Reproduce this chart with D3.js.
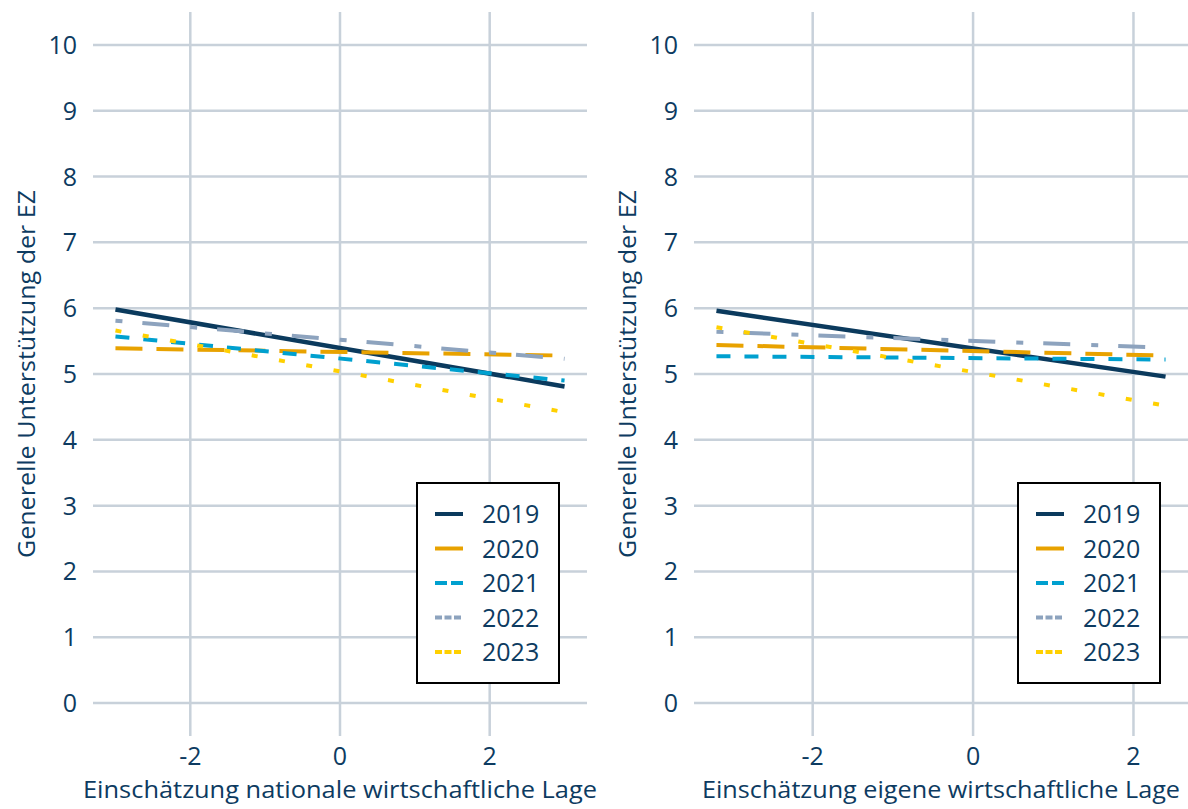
<!DOCTYPE html>
<html>
<head>
<meta charset="utf-8">
<script src="https://cdn.jsdelivr.net/npm/d3@7"></script>
<style>
  body { margin: 0; background: #fff; }
  text { font-family: "Open Sans", sans-serif; fill: #0d3b61; }
</style>
</head>
<body>
<script>
// series and values
var years = ["2019", "2020", "2021", "2022", "2023"];
var yearColors = ["#0b3a5d", "#e8a200", "#00a0cf", "#8da3be", "#ffd000"];

var nationalX = [-3, 3];
var nationalStart = [5.98, 5.39, 5.57, 5.81, 5.66];
var nationalEnd = [4.81, 5.28, 4.90, 5.23, 4.42];

var eigeneX = [-3.2, 2.4];
var eigeneStart = [5.96, 5.44, 5.27, 5.64, 5.71];
var eigeneEnd = [4.96, 5.28, 5.22, 5.40, 4.52];

var yTicks = [0, 1, 2, 3, 4, 5, 6, 7, 8, 9, 10];
var xTicks = [-2, 0, 2];

var panelTitles = ["Einschätzung nationale wirtschaftliche Lage", "Einschätzung eigene wirtschaftliche Lage"];
var yTitle = "Generelle Unterstützung der EZ";

// line styles
var dashes = [null, "27,14", "14,14", "7,20,27,21", "6,21.7"];
var keyDashes = [null, null, "12,4", "7,2.5", "7,2.5"];

var width = 1188, height = 809;

var svg = d3.select("body")
    .append("svg")
    .attr("width", width)
    .attr("height", height);

var y = d3.scaleLinear()
    .domain([-0.5, 10.5])
    .range([736, 12]);

var panels = [
    { left: 93, right: 587, xr: nationalX, s: nationalStart, e: nationalEnd, title: panelTitles[0] },
    { left: 694, right: 1188, xr: eigeneX, s: eigeneStart, e: eigeneEnd, title: panelTitles[1] }
];

panels.forEach(function (p, pi) {
    var pad = (p.xr[1] - p.xr[0]) * 0.05;
    var x = d3.scaleLinear()
        .domain([p.xr[0] - pad, p.xr[1] + pad])
        .range([p.left, p.right]);

    var g = svg.append("g");

    // grid
    g.selectAll(".hgrid")
        .data(yTicks)
        .enter()
        .append("line")
        .attr("x1", p.left)
        .attr("x2", p.right)
        .attr("y1", function (d) { return y(d); })
        .attr("y2", function (d) { return y(d); })
        .attr("stroke", "#c8d1da")
        .attr("stroke-width", 2.5);

    g.selectAll(".vgrid")
        .data(xTicks)
        .enter()
        .append("line")
        .attr("x1", function (d) { return x(d); })
        .attr("x2", function (d) { return x(d); })
        .attr("y1", y.range()[1])
        .attr("y2", y.range()[0])
        .attr("stroke", "#c8d1da")
        .attr("stroke-width", 2.5);

    // tick labels
    g.selectAll(".ylab")
        .data(yTicks)
        .enter()
        .append("text")
        .attr("x", p.left - 16)
        .attr("y", function (d) { return y(d); })
        .attr("dy", "0.36em")
        .attr("text-anchor", "end")
        .style("font-size", "25px")
        .text(function (d) { return d; });

    g.selectAll(".xlab")
        .data(xTicks)
        .enter()
        .append("text")
        .attr("x", function (d) { return x(d); })
        .attr("y", 765)
        .attr("text-anchor", "middle")
        .style("font-size", "25px")
        .text(function (d) { return d; });

    // axis titles
    g.append("text")
        .attr("x", pi == 0 ? 340 : 941)
        .attr("y", 798)
        .attr("text-anchor", "middle")
        .style("font-size", "24px")
        .attr("textLength", pi == 0 ? 514 : 478)
        .attr("lengthAdjust", "spacingAndGlyphs")
        .text(p.title);

    g.append("text")
        .attr("transform", "translate(" + (p.left - 58) + ",374) rotate(-90)")
        .attr("text-anchor", "middle")
        .style("font-size", "24px")
        .attr("textLength", 368)
        .attr("lengthAdjust", "spacingAndGlyphs")
        .text(yTitle);

    // regression lines
    var line = d3.line()
        .x(function (d) { return x(d[0]); })
        .y(function (d) { return y(d[1]); });

    years.forEach(function (yr, i) {
        g.append("path")
            .datum([[p.xr[0], p.s[i]], [p.xr[1], p.e[i]]])
            .attr("d", line)
            .attr("fill", "none")
            .attr("stroke", yearColors[i])
            .attr("stroke-width", i == 0 ? 4.5 : 4)
            .attr("stroke-dasharray", dashes[i]);
    });

    // legend
    var lg = g.append("g")
        .attr("transform", "translate(" + (p.right - 170) + ",483)");

    lg.append("rect")
        .attr("width", 142)
        .attr("height", 200)
        .attr("fill", "#fff")
        .attr("stroke", "#000")
        .attr("stroke-width", 2);

    var items = lg.selectAll(".item")
        .data(years)
        .enter()
        .append("g")
        .attr("transform", function (d, i) { return "translate(0," + (31 + i * 34.5) + ")"; });

    items.append("line")
        .attr("x1", 18)
        .attr("x2", 46)
        .attr("stroke", function (d, i) { return yearColors[i]; })
        .attr("stroke-width", 4)
        .attr("stroke-dasharray", function (d, i) { return keyDashes[i]; });

    items.append("text")
        .attr("x", 65)
        .attr("dy", "0.36em")
        .style("font-size", "25px")
        .text(function (d) { return d; });
});
</script>
</body>
</html>
